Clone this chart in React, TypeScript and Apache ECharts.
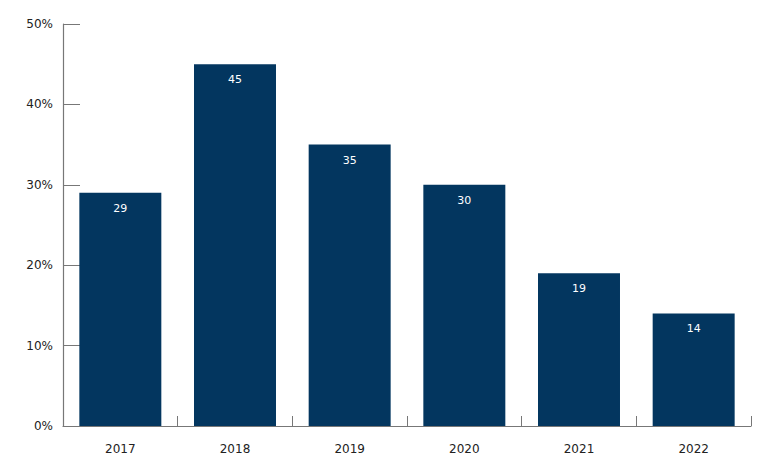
import React, { useEffect, useRef } from "react";
import * as echarts from "echarts";

const years = ["2017", "2018", "2019", "2020", "2021", "2022"];
const values = [29, 45, 35, 30, 19, 14];
const yTicks = [0, 10, 20, 30, 40, 50];

export default function App() {
  const ref = useRef<HTMLDivElement>(null);
  useEffect(() => {
    const chart = echarts.init(ref.current!, null, { renderer: "svg" });
    chart.setOption({
      animation: false,
      grid: { left: 55, right: 19, top: 16, bottom: 36 },
      xAxis: {
        type: "category",
        data: years,
        axisLine: { lineStyle: { color: "#777", width: 1.2 } },
        axisTick: { show: true, inside: true, length: 10, lineStyle: { color: "#777" } },
        axisLabel: { color: "#222", fontSize: 12, margin: 17, fontFamily: "DejaVu Sans" },
      },
      yAxis: {
        type: "value",
        min: yTicks[0],
        max: yTicks[yTicks.length - 1],
        interval: 10,
        splitLine: { show: false },
        axisLine: { show: true, lineStyle: { color: "#777", width: 1.2 } },
        axisTick: { show: true, inside: true, length: 17, lineStyle: { color: "#777" } },
        axisLabel: { color: "#222", fontSize: 12, margin: 10, formatter: "{value}%", fontFamily: "DejaVu Sans" },
      },
      series: [
        {
          type: "bar",
          data: values,
          barWidth: "71.5%",
          itemStyle: { color: "#03365f" },
          label: {
            show: true,
            position: "insideTop",
            distance: 10,
            color: "#fff",
            fontSize: 11,
            fontFamily: "DejaVu Sans",
          },
        },
      ],
    });
    return () => chart.dispose();
  }, []);
  return <div ref={ref} style={{ width: 762, height: 454 }} />;
}
